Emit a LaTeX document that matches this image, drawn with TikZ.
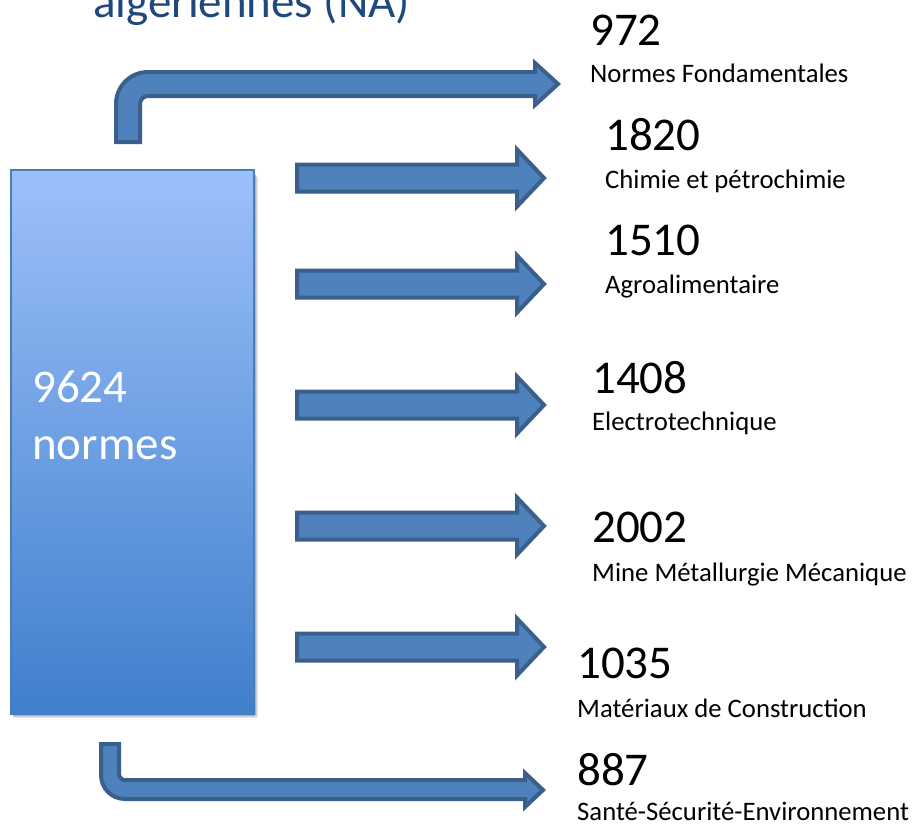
\documentclass[tikz,border=0pt]{standalone}
\usepackage{fontspec}
\setmainfont{Carlito}
\definecolor{arrfill}{HTML}{4F81BD}
\definecolor{arrline}{HTML}{3A5F8B}
\definecolor{boxtop}{HTML}{9DC0FA}
\definecolor{boxbot}{HTML}{3F7FCC}
\definecolor{boxline}{HTML}{4A7EBB}
\definecolor{titlecol}{HTML}{1F497D}
\tikzset{
  blockarrow/.style={fill=arrfill, draw=arrline, line width=4pt, line join=miter},
  numtext/.style={anchor=base west, inner sep=0pt, font=\fontsize{47}{56}\selectfont},
  labtext/.style={anchor=base west, inner sep=0pt, font=\fontsize{26.7}{32}\selectfont},
}
\begin{document}
\begin{tikzpicture}[x=1pt,y=-1pt]
\useasboundingbox (0,0) rectangle (912,825);
\clip (0,0) rectangle (912,825);
% title (cut off at top)
\node[anchor=base west, inner sep=0pt, text=titlecol, font=\fontsize{47}{56}\selectfont] (title) at (93,17) {algériennes (NA)};
% shadow of the box
\foreach \d/\o in {7/0.05,6/0.06,5/0.07,4/0.08,3/0.09} {
  \fill[black, opacity=\o, rounded corners=2pt] (11+\d*0.3,170+\d) rectangle (254+\d*0.6,714+\d*0.6);
}
% main box
\shade[top color=boxtop, bottom color=boxbot] (11,170) rectangle (254,714);
\draw[boxline, line width=1.5pt] (11,170) rectangle (254,714);
\node[anchor=base west, inner sep=0pt, text=white, font=\fontsize{47}{56}\selectfont] (total) at (32,402) {9624};
\node[anchor=base west, inner sep=0pt, text=white, font=\fontsize{47}{56}\selectfont] (totallab) at (32,459) {normes};
% top bent arrow
\draw[blockarrow] (116,142) -- (116,104) .. controls (116,86.3) and (130.3,72) .. (148,72)
  -- (535,72) -- (535,63) -- (558,84) -- (535,105) -- (535,96) -- (148,96)
  .. controls (143.6,96) and (140,99.6) .. (140,104) -- (140,142) -- cycle;
% straight arrows
\foreach \c in {178,284,405,526,647} {
  \draw[blockarrow] (297,\c-13.5) -- (517,\c-13.5) -- (517,\c-28.5) -- (544,\c) -- (517,\c+28.5) -- (517,\c+13.5) -- (297,\c+13.5) -- cycle;
}
% bottom bent arrow
\draw[blockarrow] (101,744) -- (101,775) .. controls (101,788.3) and (111.7,799) .. (125,799)
  -- (525,799) -- (525,807) -- (543,790) -- (525,773) -- (525,780) -- (125,780)
  .. controls (121.7,780) and (119,777.3) .. (119,774) -- (119,744) -- cycle;
% texts
\node[numtext] (n1) at (590,45) {972};
\node[labtext] (l1) at (590,82) {Normes Fondamentales};
\node[numtext] (n2) at (605,150) {1820};
\node[labtext] (l2) at (605,188) {Chimie et pétrochimie};
\node[numtext] (n3) at (605,255) {1510};
\node[labtext] (l3) at (605,293) {Agroalimentaire};
\node[numtext] (n4) at (592,393) {1408};
\node[labtext] (l4) at (592,430) {Electrotechnique};
\node[numtext] (n5) at (592,542) {2002};
\node[labtext] (l5) at (592,581) {Mine Métallurgie Mécanique};
\node[numtext] (n6) at (577,678) {1035};
\node[labtext] (l6) at (577,717) {Matériaux de Construction};
\node[numtext] (n7) at (577,785) {887};
\node[labtext] (l7) at (577,820) {Santé-Sécurité-Environnement};
\end{tikzpicture}
\end{document}
